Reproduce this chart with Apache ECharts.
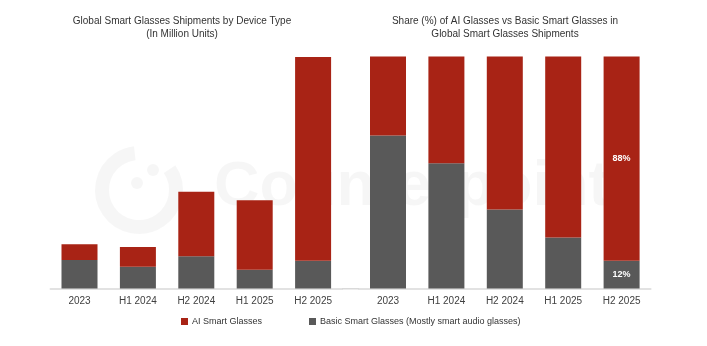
<!DOCTYPE html>
<html>
<head>
<meta charset="utf-8">
<script src="https://cdn.jsdelivr.net/npm/echarts@6/dist/echarts.min.js"></script>
<style>
  html, body { margin: 0; padding: 0; background: #ffffff; }
  #chart { width: 707px; height: 346px; }
</style>
</head>
<body>
<div id="chart"></div>
<script>
// Periods shown on both panels
const periods = ['2023', 'H1 2024', 'H2 2024', 'H1 2025', 'H2 2025'];

// Shipments, million units
const aiShipments = [0.68, 0.85, 2.79, 3.00, 8.80];
const basicShipments = [1.23, 0.94, 1.39, 0.81, 1.20];

// Share of total shipments, %
const aiShare = [34, 46, 66, 78, 88];
const basicShare = [66, 54, 34, 22, 12];

const seriesNames = ['AI Smart Glasses', 'Basic Smart Glasses (Mostly smart audio glasses)'];
const titleLeft = 'Global Smart Glasses Shipments by Device Type\n(In Million Units)';
const titleRight = 'Share (%) of AI Glasses vs Basic Smart Glasses in\nGlobal Smart Glasses Shipments';

const RED = '#A82315';
const GRAY = '#595959';
const FONT = '"Liberation Sans", Arial, sans-serif';
const MARK = 'rgba(0,0,0,0.035)';

const chart = echarts.init(document.getElementById('chart'), null, { renderer: 'canvas' });

const catAxis = (gridIndex) => ({
  type: 'category',
  gridIndex,
  data: periods,
  axisLine: { lineStyle: { color: '#d9d9d9', width: 1.5 } },
  axisTick: { show: false },
  axisLabel: { color: '#404040', fontSize: 10, fontFamily: FONT, margin: 8 }
});

const valAxis = (gridIndex, max) => ({
  type: 'value',
  gridIndex,
  min: 0,
  max,
  show: false
});

// only the last period carries a value label
const lastOnly = (p) => (p.dataIndex === periods.length - 1 ? p.value + '%' : '');

chart.setOption({
  animation: false,
  backgroundColor: '#ffffff',
  textStyle: { fontFamily: FONT },
  title: [
    {
      text: titleLeft,
      left: 177, top: 10, textAlign: 'center',
      textStyle: { fontSize: 10, fontWeight: 'normal', color: '#333333', lineHeight: 13, fontFamily: FONT }
    },
    {
      text: titleRight,
      left: 500, top: 10, textAlign: 'center',
      textStyle: { fontSize: 10, fontWeight: 'normal', color: '#333333', lineHeight: 13, fontFamily: FONT }
    }
  ],
  legend: {
    data: seriesNames,
    left: 176,
    top: 312,
    itemWidth: 7,
    itemHeight: 7,
    itemGap: 47,
    icon: 'rect',
    textStyle: { fontSize: 9, color: '#333333', fontFamily: FONT, padding: [0, 0, 0, -1] }
  },
  grid: [
    { left: 50.3, width: 292, top: 57, bottom: 57.5 },
    { left: 358.8, width: 292, top: 56.5, bottom: 57.5 }
  ],
  xAxis: [catAxis(0), catAxis(1)],
  yAxis: [valAxis(0, 10), valAxis(1, 100)],
  series: [
    {
      name: seriesNames[1], type: 'bar', stack: 'units',
      xAxisIndex: 0, yAxisIndex: 0, barWidth: 36,
      itemStyle: { color: GRAY }, data: basicShipments
    },
    {
      name: seriesNames[0], type: 'bar', stack: 'units',
      xAxisIndex: 0, yAxisIndex: 0, barWidth: 36,
      itemStyle: { color: RED }, data: aiShipments
    },
    {
      name: seriesNames[1], type: 'bar', stack: 'share',
      xAxisIndex: 1, yAxisIndex: 1, barWidth: 36,
      itemStyle: { color: GRAY }, data: basicShare,
      label: { show: true, position: 'inside', formatter: lastOnly, color: '#ffffff', fontSize: 9, fontWeight: 'bold' }
    },
    {
      name: seriesNames[0], type: 'bar', stack: 'share',
      xAxisIndex: 1, yAxisIndex: 1, barWidth: 36,
      itemStyle: { color: RED }, data: aiShare,
      label: { show: true, position: 'inside', formatter: lastOnly, color: '#ffffff', fontSize: 9, fontWeight: 'bold' }
    }
  ],
  graphic: [
    // baseline between the two panels
    { type: 'line', shape: { x1: 342, y1: 288.75, x2: 359, y2: 288.75 }, style: { stroke: '#d9d9d9', lineWidth: 1.5 }, z: 1 },
    // faint brand watermark across both panels
    {
      type: 'group', z: 100, silent: true,
      children: [
        { type: 'arc', shape: { cx: 139, cy: 190, r: 37, startAngle: -0.6, endAngle: 4.6 }, style: { stroke: MARK, lineWidth: 14, fill: null } },
        { type: 'circle', shape: { cx: 137, cy: 183, r: 6 }, style: { fill: MARK } },
        { type: 'circle', shape: { cx: 153, cy: 170, r: 6 }, style: { fill: MARK } },
        { type: 'text', x: 214, y: 188, style: { text: 'Counterpoint', fontSize: 63, fontWeight: 'bold', fontFamily: FONT, fill: MARK, verticalAlign: 'middle' } }
      ]
    }
  ]
});
</script>
</body>
</html>
